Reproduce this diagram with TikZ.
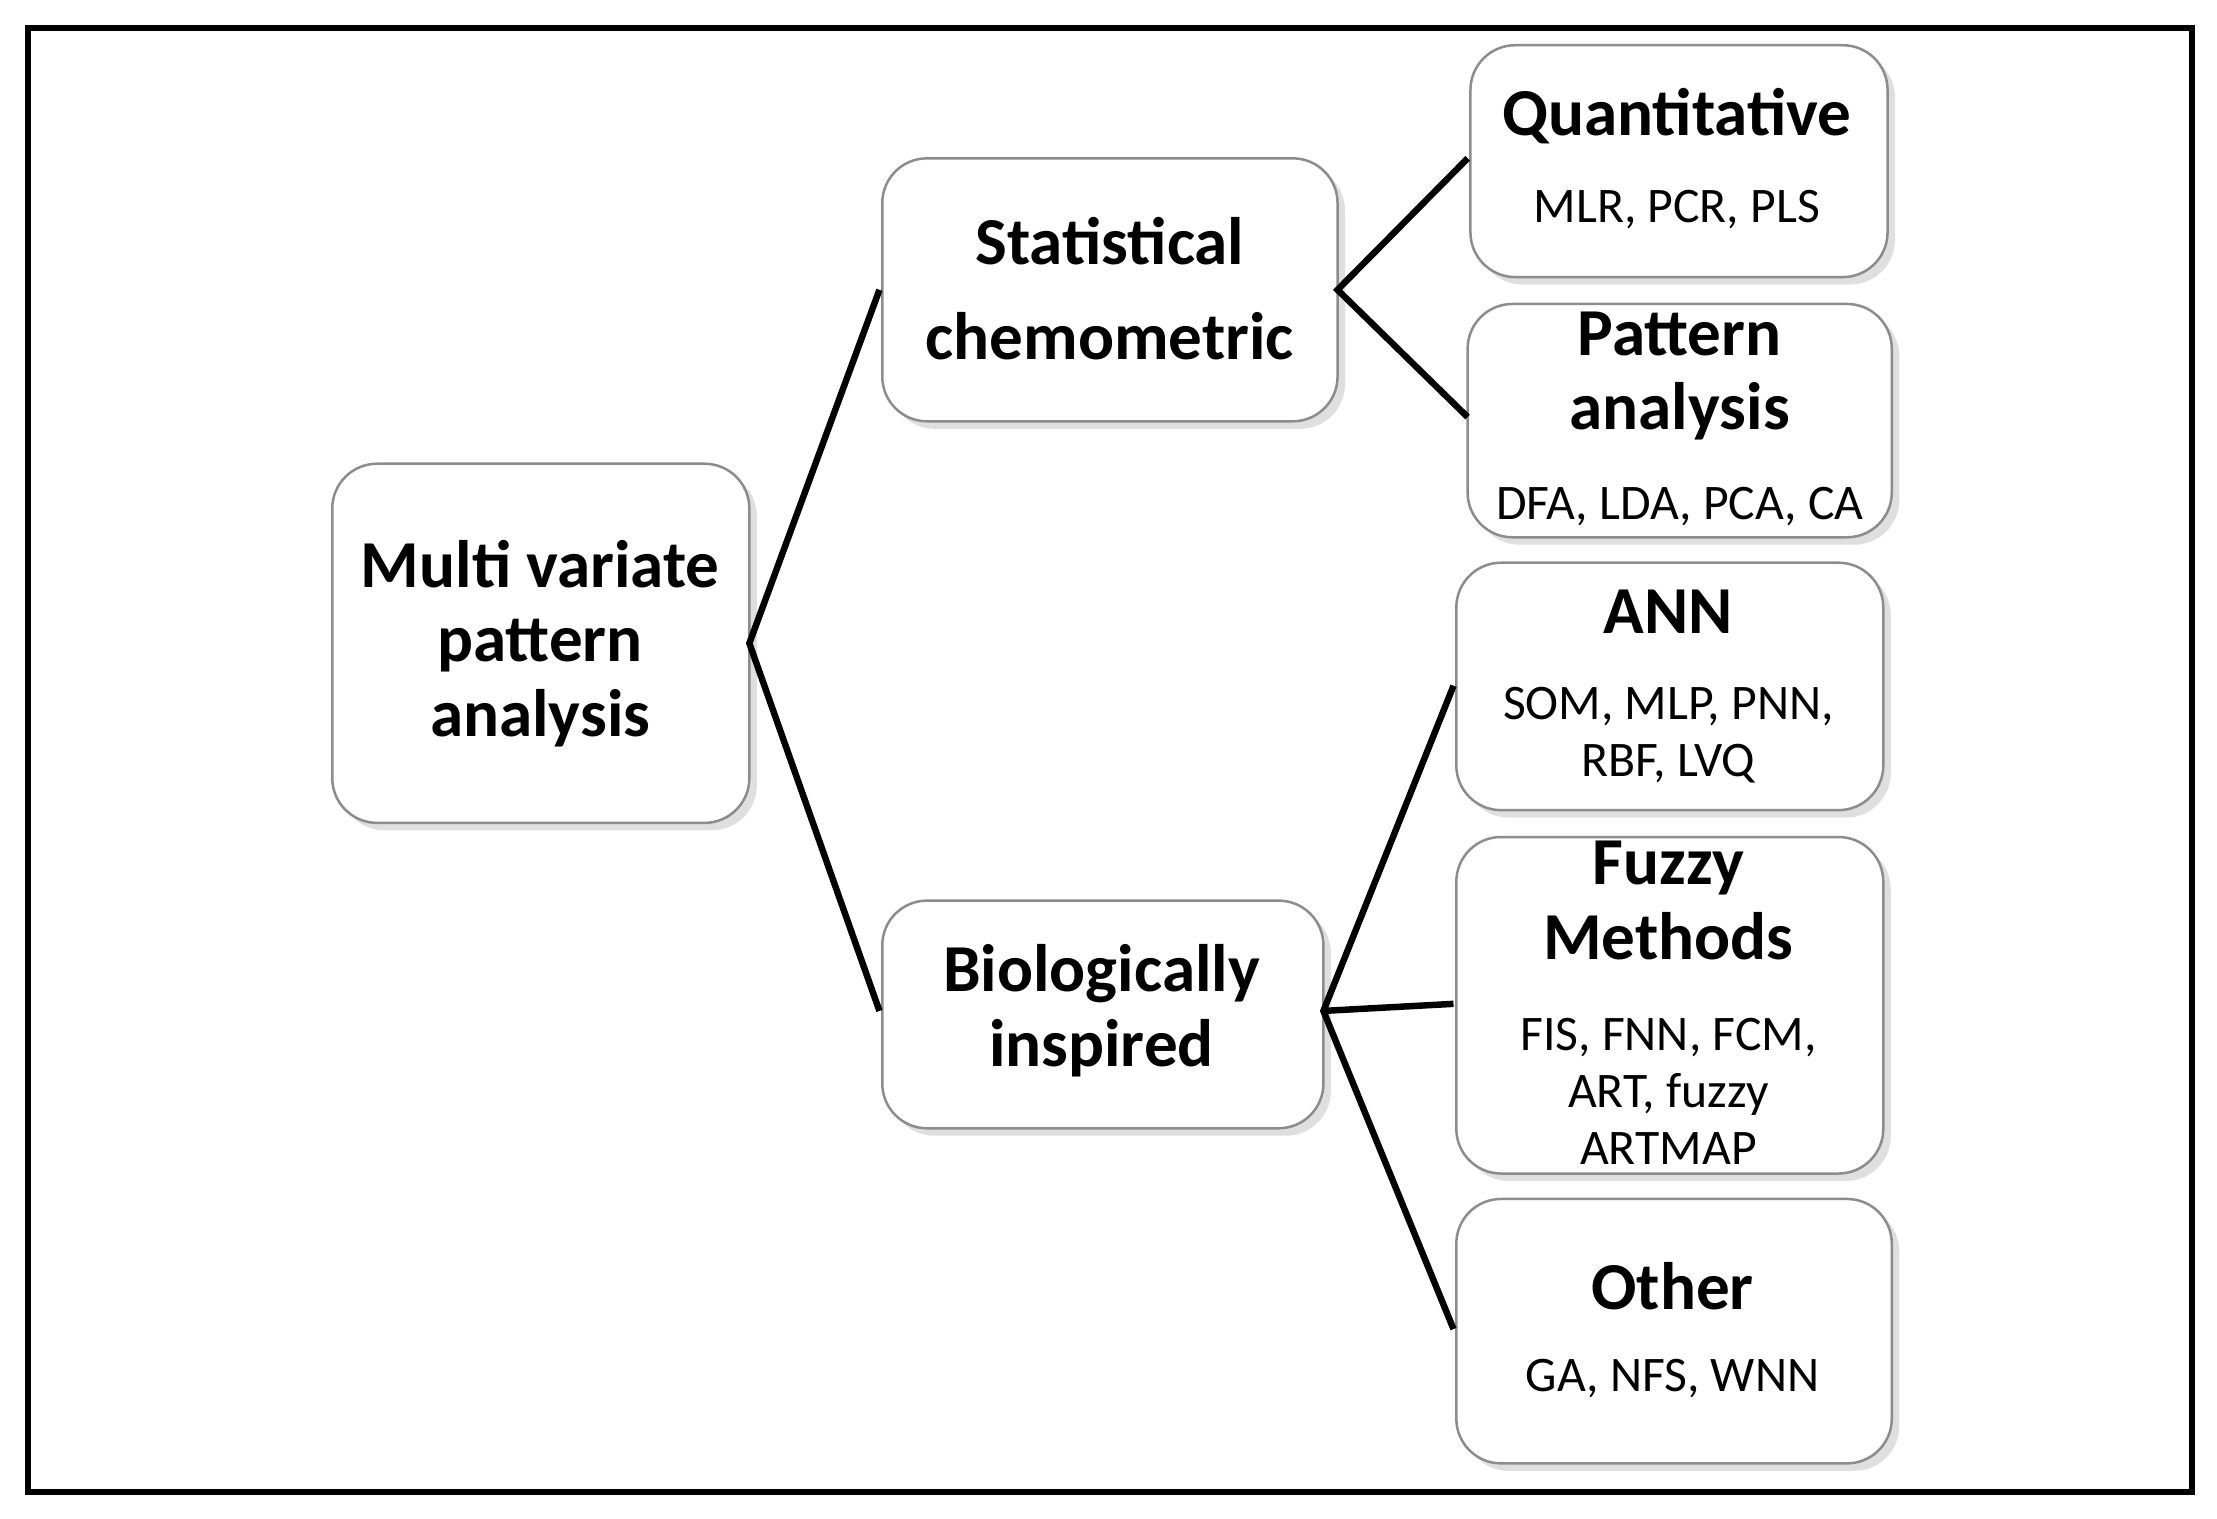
\documentclass[tikz,border=0pt]{standalone}
\usepackage{fontspec}
\setmainfont{Carlito}
\usetikzlibrary{shadows}
\begin{document}
\begin{tikzpicture}[x=0.01cm,y=-0.01cm,
  box/.style={draw=black!45,line width=0.5pt,fill=white,rounded corners=9pt,drop shadow={opacity=0.25,shadow xshift=1.5pt,shadow yshift=-1.5pt}},
  big/.style={font=\fontsize{13.5}{15}\selectfont\bfseries,align=center},
  small/.style={font=\fontsize{10}{11.4}\selectfont,align=center},
  link/.style={line width=1.3pt}]
\useasboundingbox (0,0) rectangle (1568,1074);
\draw[line width=1.2pt] (20,20) rectangle (1550,1055);
% boxes
\path[box] (235,328) rectangle (530,582);
\path[box] (624,112) rectangle (946,298);
\path[box] (624,637) rectangle (936,798);
\path[box] (1040,32) rectangle (1335,196);
\path[box] (1038,215) rectangle (1338,380);
\path[box] (1030,398) rectangle (1332,573);
\path[box] (1030,592) rectangle (1332,830);
\path[box] (1030,848) rectangle (1338,1035);
% anchor coordinates
\coordinate (m) at (530,455);
\coordinate (sL) at (622,205); \coordinate (sR) at (946,205);
\coordinate (bL) at (622,715); \coordinate (bR) at (936,715);
\coordinate (q) at (1038,112); \coordinate (p) at (1038,295);
\coordinate (a) at (1028,485); \coordinate (f) at (1028,710); \coordinate (o) at (1028,940);
\draw[link] (sL) -- (m) -- (bL);
\draw[link] (q) -- (sR) -- (p);
\draw[link] (a) -- (bR) -- (o);
\draw[link] (bR) -- (f);
% texts
\node[big] (tm) at (382,455) {Multi variate\\pattern\\analysis};
\node[big] (ts) at (785,204) {Statistical\\[4pt]chemometric};
\node[big] (tb) at (779,715) {Biologically\\inspired};
\node[big] (tq) at (1186,82) {Quantitative};
\node[small] (tq2) at (1186,148) {MLR, PCR, PLS};
\node[big] (tp) at (1188,266) {Pattern\\analysis};
\node[small] (tp2) at (1188,358) {DFA, LDA, PCA, CA};
\node[big] (ta) at (1180,433) {ANN};
\node[small] (ta2) at (1180,520) {SOM, MLP, PNN,\\RBF, LVQ};
\node[big] (tf) at (1180,637) {Fuzzy\\Methods};
\node[small] (tf2) at (1180,772) {FIS, FNN, FCM,\\ART, fuzzy\\ARTMAP};
\node[big] (to) at (1183,910) {Other};
\node[small] (to2) at (1183,975) {GA, NFS, WNN};
\end{tikzpicture}
\end{document}
